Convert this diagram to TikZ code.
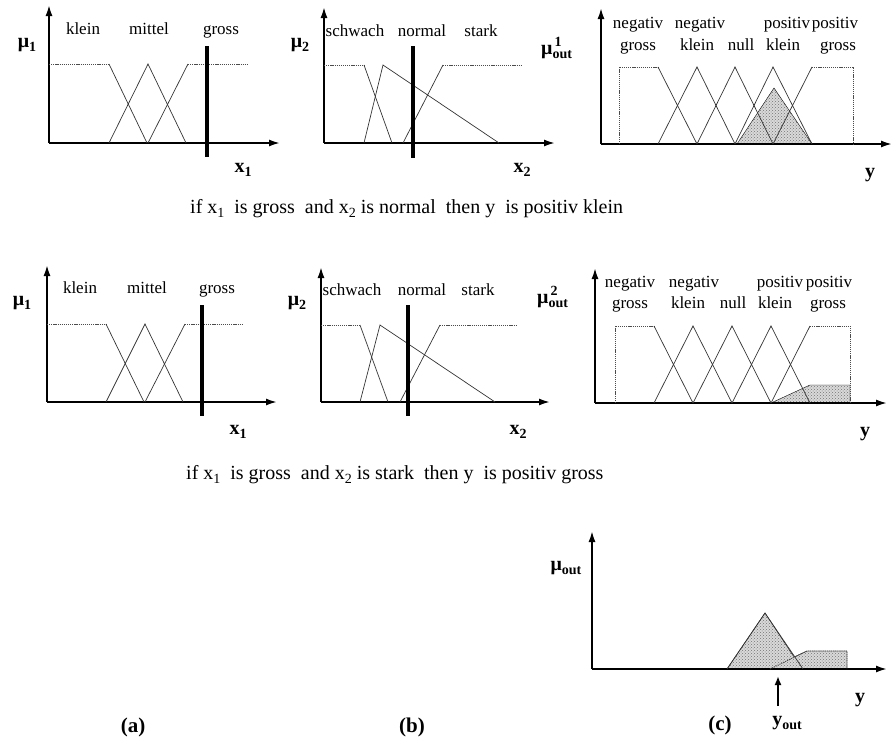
\documentclass[tikz,border=0pt]{standalone}
\usepackage{fontspec}
\setmainfont{Liberation Serif}
\usetikzlibrary{arrows.meta,patterns}
\newcommand\lblf{\fontsize{17}{20}\selectfont}
\newcommand\rulef{\fontsize{20}{22}\selectfont}
\newcommand\boldf{\fontsize{20}{22}\selectfont\bfseries}
\newcommand\mysub[1]{\raisebox{-0.45ex}{\fontsize{14}{14}\selectfont #1}}
\newcommand\mysup[1]{\raisebox{0.95ex}{\fontsize{14}{14}\selectfont #1}}
\newcommand\rsub[1]{\raisebox{-0.45ex}{\fontsize{14}{14}\selectfont #1}}
\begin{document}
\begin{tikzpicture}[x=1pt,y=-1pt,
  axis/.style={line width=1.8pt,-{Latex[length=11pt,width=7pt]}},
  mf/.style={line width=0.7pt,black!80},
  plat/.style={line width=0.8pt,black!70,dash pattern=on 1.2pt off 0.9pt},
  barline/.style={line width=3.2pt},
  lbl/.style={font=\lblf,inner sep=0pt,anchor=base},
  blbl/.style={font=\boldf,inner sep=0pt},
  shade/.style={fill=gray!30,postaction={pattern=crosshatch dots,pattern color=black!55}},
  rule/.style={font=\rulef,inner sep=0pt,anchor=base west}]
\useasboundingbox (0,0) rectangle (895,742);

% ================= TOP ROW =================
% panel a
\draw[axis] (49,143) -- (49,5);
\draw[axis] (49,143) -- (280,143);
\draw[plat] (49,64) -- (109,64);
\draw[mf] (109,64) -- (147,143);
\draw[mf] (109,143) -- (148,64) -- (186,143);
\draw[mf] (148,143) -- (188,64);
\draw[plat] (188,64) -- (247,64);
\draw[barline] (207,46) -- (207,157);
\node[lbl] (ta1) at (83,34) {klein};
\node[lbl] (ta2) at (149,34) {mittel};
\node[lbl] (ta3) at (221,34) {gross};
\node[blbl] (tamu) at (27,45) {μ\mysub{1}};
\node[blbl] (tax) at (243,170) {x\mysub{1}};

% panel b
\draw[axis] (324,143) -- (324,7);
\draw[axis] (324,143) -- (555,143);
\draw[plat] (324,65) -- (364,65);
\draw[mf] (364,65) -- (392,143);
\draw[mf] (364,143) -- (383,65) -- (499,143);
\draw[mf] (403,143) -- (443,65);
\draw[plat] (443,65) -- (521,65);
\draw[barline] (413,46) -- (413,158);
\node[lbl] (tb1) at (355,36) {schwach};
\node[lbl] (tb2) at (422,36) {normal};
\node[lbl] (tb3) at (481,36) {stark};
\node[blbl] (tbmu) at (300,45) {μ\mysub{2}};
\node[blbl] (tbx) at (522,170) {x\mysub{2}};

% panel c
\draw[shade] (737,144) -- (774,88) -- (812,144) -- cycle;
\draw[axis] (601,144) -- (601,8);
\draw[axis] (601,144) -- (892,144);
\draw[plat] (619,144) -- (619,67) -- (658,67);
\draw[mf] (658,67) -- (697,144);
\draw[mf] (658,144) -- (697,67) -- (735,144);
\draw[mf] (697,144) -- (735,67) -- (773,144);
\draw[mf] (735,144) -- (773,67) -- (812,144);
\draw[mf] (773,144) -- (812,67);
\draw[plat] (812,67) -- (853,67) -- (853,144);
\node[lbl] (tc1) at (638,28) {negativ};
\node[lbl] (tc2) at (638,50) {gross};
\node[lbl] (tc3) at (700,28) {negativ};
\node[lbl] (tc4) at (697,50) {klein};
\node[lbl] (tc5) at (741,50) {null};
\node[lbl] (tc6) at (787,28) {positiv};
\node[lbl] (tc7) at (783,50) {klein};
\node[lbl] (tc8) at (835,28) {positiv};
\node[lbl] (tc9) at (838,50) {gross};
\node[blbl,anchor=west] (tcmu) at (541,48) {μ\rlap{\hspace{2pt}\mysup{1}}\mysub{out}};
\node[blbl] (tcy) at (870,175) {y};

\node[rule] (r1) at (190,213) {if x\rsub{1}\ \ is gross\ \ and x\rsub{2} is normal\ \ then y\ \ is positiv klein};

% ================= MIDDLE ROW =================
% panel a
\draw[axis] (47,402) -- (47,265);
\draw[axis] (47,402) -- (277,402);
\draw[plat] (47,324) -- (106,324);
\draw[mf] (106,324) -- (144,402);
\draw[mf] (106,402) -- (145,324) -- (183,402);
\draw[mf] (145,402) -- (185,324);
\draw[plat] (185,324) -- (243,324);
\draw[barline] (202,305) -- (202,416);
\node[lbl] (ma1) at (80,293) {klein};
\node[lbl] (ma2) at (147,293) {mittel};
\node[lbl] (ma3) at (217,293) {gross};
\node[blbl] (mamu) at (22,303) {μ\mysub{1}};
\node[blbl] (max) at (238,432) {x\mysub{1}};

% panel b
\draw[axis] (321,402) -- (321,267);
\draw[axis] (321,402) -- (550,402);
\draw[plat] (321,325) -- (360,325);
\draw[mf] (360,325) -- (388,402);
\draw[mf] (360,402) -- (380,325) -- (495,402);
\draw[mf] (400,402) -- (440,325);
\draw[plat] (440,325) -- (517,325);
\draw[barline] (408,305) -- (408,416);
\node[lbl] (mb1) at (352,295) {schwach};
\node[lbl] (mb2) at (422,295) {normal};
\node[lbl] (mb3) at (478,295) {stark};
\node[blbl] (mbmu) at (297,303) {μ\mysub{2}};
\node[blbl] (mbx) at (518,432) {x\mysub{2}};

% panel c
\draw[shade] (771,403) -- (810,385) -- (850,385) -- (850,403) -- cycle;
\draw[axis] (595,403) -- (595,268);
\draw[axis] (595,403) -- (887,403);
\draw[plat] (615,403) -- (615,326) -- (654,326);
\draw[mf] (654,326) -- (693,403);
\draw[mf] (654,403) -- (693,326) -- (732,403);
\draw[mf] (693,403) -- (732,326) -- (771,403);
\draw[mf] (732,403) -- (771,326) -- (810,403);
\draw[mf] (771,403) -- (810,326);
\draw[plat] (810,326) -- (850,326) -- (850,403);
\node[lbl] (mc1) at (630,287) {negativ};
\node[lbl] (mc2) at (630,308) {gross};
\node[lbl] (mc3) at (694,287) {negativ};
\node[lbl] (mc4) at (688,308) {klein};
\node[lbl] (mc5) at (733,308) {null};
\node[lbl] (mc6) at (780,287) {positiv};
\node[lbl] (mc7) at (775,308) {klein};
\node[lbl] (mc8) at (829,287) {positiv};
\node[lbl] (mc9) at (828,308) {gross};
\node[blbl,anchor=west] (mcmu) at (537,297) {μ\rlap{\hspace{2pt}\mysup{2}}\mysub{out}};
\node[blbl] (mcy) at (865,434) {y};

\node[rule] (r2) at (186,479) {if x\rsub{1}\ \ is gross\ \ and x\rsub{2} is stark\ \ then y\ \ is positiv gross};

% ================= BOTTOM =================
\draw[shade] (727,669) -- (765,613) -- (794,657) -- (807,651) -- (847,651) -- (847,669) -- cycle;
\draw[axis] (592,669) -- (592,531);
\draw[axis] (592,669) -- (887,669);
\draw[mf] (727,669) -- (765,613) -- (803,669);
\draw[plat] (770,669) -- (807,651) -- (847,651) -- (847,669);
\node[blbl] (bmu) at (566,568) {μ\mysub{out}};
\node[blbl] (by) at (860,700) {y};
\node[blbl] (byout) at (787,723) {y\mysub{out}};
\coordinate (ybot) at (778,706);
\coordinate (ytop) at (778,676);
\draw[line width=2.6pt,-{Latex[length=9pt,width=7pt]}] (ybot) -- (ytop);

\node[font=\fontsize{21}{24}\selectfont\bfseries,inner sep=0pt] (la) at (133,727) {(a)};
\node[font=\fontsize{21}{24}\selectfont\bfseries,inner sep=0pt] (lb) at (412,727) {(b)};
\node[font=\fontsize{21}{24}\selectfont\bfseries,inner sep=0pt] (lc) at (720,725) {(c)};
\end{tikzpicture}
\end{document}
